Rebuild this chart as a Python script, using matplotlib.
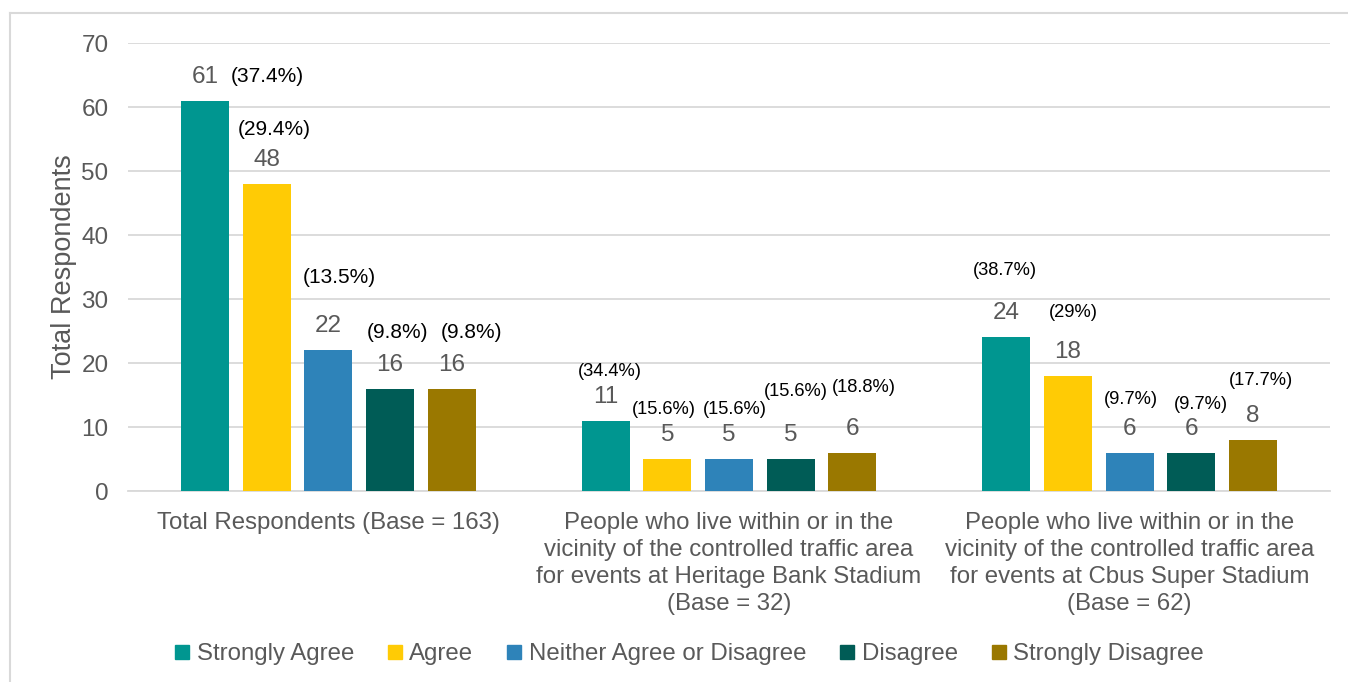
import numpy as np
import matplotlib.pyplot as plt
from matplotlib.lines import Line2D

# Data
categories = [
    "Total Respondents (Base = 163)",
    "People who live within or in the\nvicinity of the controlled traffic area\n"
    "for events at Heritage Bank Stadium\n(Base = 32)",
    "People who live within or in the\nvicinity of the controlled traffic area\n"
    "for events at Cbus Super Stadium\n(Base = 62)",
]
series_names = ["Strongly Agree", "Agree", "Neither Agree or Disagree",
                "Disagree", "Strongly Disagree"]
strongly_agree = [61, 11, 24]
agree = [48, 5, 18]
neither = [22, 5, 6]
disagree = [16, 5, 6]
strongly_disagree = [16, 6, 8]
pct_strongly_agree = ["(37.4%)", "(34.4%)", "(38.7%)"]
pct_agree = ["(29.4%)", "(15.6%)", "(29%)"]
pct_neither = ["(13.5%)", "(15.6%)", "(9.7%)"]
pct_disagree = ["(9.8%)", "(15.6%)", "(9.7%)"]
pct_strongly_disagree = ["(9.8%)", "(18.8%)", "(17.7%)"]

values = [strongly_agree, agree, neither, disagree, strongly_disagree]
pcts = [pct_strongly_agree, pct_agree, pct_neither, pct_disagree,
        pct_strongly_disagree]
colors = ["#009690", "#FFCB05", "#2E83B9", "#005C56", "#9A7800"]

# Manual placement of percentage labels (pixel offsets from bar top)
pct_offsets = {
    (0, 0): (62, 24), (0, 1): (4, 49), (0, 2): (-1, 67),
    (1, 0): (8, 54), (1, 1): (-3, 49), (1, 2): (5, 63),
    (2, 0): (11, 73), (2, 1): (6, 49), (2, 2): (1, 53),
    (3, 0): (7, 56), (3, 1): (5, 67), (3, 2): (10, 48),
    (4, 0): (20, 56), (4, 1): (11, 65), (4, 2): (8, 59),
}
pct_fontsize = [15, 13.2, 13.2]

plt.rcParams['font.family'] = ['Liberation Sans', 'DejaVu Sans']
grey = "#595959"
fs = 17.3

fig = plt.figure(figsize=(13.48, 6.82), dpi=100)
ax = fig.add_axes([128 / 1348, 1 - 491 / 682, 1202 / 1348, 448 / 682])

x = np.arange(len(categories))
width = 0.12
step = 0.154
for i, (vals, col) in enumerate(zip(values, colors)):
    pos = x + (i - 2) * step
    ax.bar(pos, vals, width=width, color=col, zorder=3,
           label=series_names[i])
    for j, (p, v) in enumerate(zip(pos, vals)):
        ax.annotate(str(v), (p, v), xytext=(0, 24), textcoords='offset pixels',
                    ha='center', va='center', fontsize=17.5, color=grey)
        dx, dy = pct_offsets[(i, j)]
        ax.annotate(pcts[i][j], (p, v), xytext=(dx, dy),
                    textcoords='offset pixels', ha='center', va='center',
                    fontsize=pct_fontsize[j], color='black')

ax.set_xlim(-0.5, 2.5)
ax.set_ylim(0, 70)
ax.set_yticks(range(0, 71, 10))
ax.set_xticks(x)
ax.set_xticklabels(categories, fontsize=fs, color=grey, linespacing=1.3)
ax.tick_params(axis='both', length=0, labelsize=fs, labelcolor=grey)
ax.tick_params(axis='y', labelsize=17.5)
ax.tick_params(axis='x', pad=15)
ax.tick_params(axis='y', pad=14)
ax.grid(axis='y', color='#D9D9D9', linewidth=1.3, zorder=0)
for s in ['top', 'right', 'left']:
    ax.spines[s].set_visible(False)
ax.spines['bottom'].set_color('#D9D9D9')
ax.spines['bottom'].set_linewidth(1.3)
ax.set_ylabel("Total Respondents", fontsize=19.5, color=grey, labelpad=3)

handles = [Line2D([], [], marker='s', linestyle='none', markersize=10,
                  color=c) for c in colors]
fig.legend(handles, series_names, loc='center', ncol=5,
           bbox_to_anchor=(687 / 1348, 1 - 654 / 682), frameon=False,
           fontsize=fs, labelcolor=grey, handletextpad=0.1,
           columnspacing=1.2, handlelength=1.0)

# Chart border (cropped on right and bottom)
fig.add_artist(Line2D([10 / 1348, 1], [1 - 13 / 682, 1 - 13 / 682],
                      color='#D9D9D9', linewidth=1.5))
fig.add_artist(Line2D([10 / 1348, 10 / 1348], [0, 1 - 13 / 682],
                      color='#D9D9D9', linewidth=1.5))

fig.savefig("out.png", dpi=100)
